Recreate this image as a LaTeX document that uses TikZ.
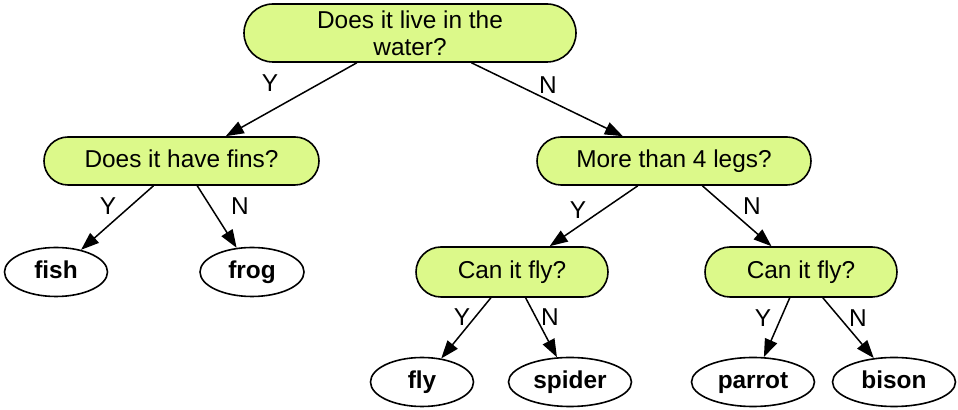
\documentclass[tikz,border=0pt]{standalone}
\usepackage{fontspec}
\setmainfont{Liberation Sans}
\usetikzlibrary{shapes.misc,shapes.geometric,arrows.meta}
\definecolor{qgreen}{RGB}{220,249,138}
\begin{document}
\begin{tikzpicture}[x=0.5pt, y=-0.5pt, line width=.8pt,
question node/.style={rounded rectangle,draw,fill=qgreen,inner sep=2pt,font=\fontsize{12.2}{13.5}\selectfont,align=center},
one line/.style={text height=8.8pt,text depth=2.6pt},
answer node/.style={ellipse,draw,fill=white,inner sep=2pt,minimum width=51.5pt,minimum height=24.5pt,text height=8.8pt,text depth=2.6pt,font=\fontsize{12.2}{13.5}\selectfont\bfseries},
edge label/.style={inner sep=0pt,font=\fontsize{12.2}{13.5}\selectfont}]
\useasboundingbox (0,0) rectangle (958,410);
\begin{scope}
\node[question node, minimum width=170pt, minimum height=29pt] (q1) at (410,33) {Does it live in the\\water?};
\node[question node, one line, minimum width=141.5pt, minimum height=24pt] (q2) at (181.5,161) {Does it have fins?};
\node[question node, one line, minimum width=141pt, minimum height=24pt] (q3) at (674,161) {More than 4 legs?};
\node[question node, one line, minimum width=100pt, minimum height=25pt] (q4) at (512,272) {Can it fly?};
\node[question node, one line, minimum width=100pt, minimum height=25pt] (q5) at (801,272) {Can it fly?};
\node[answer node] (a1) at (56,272) {fish};
\node[answer node, minimum width=52pt] (a2) at (252,272) {frog};
\node[answer node] (a3) at (422,382) {fly};
\node[answer node, minimum width=61.5pt] (a4) at (570,382) {spider};
\node[answer node, minimum width=61.5pt] (a5) at (753,382) {parrot};
\node[answer node, minimum width=61.5pt] (a6) at (894,382) {bison};
\end{scope}
\begin{scope}[every edge/.style={draw=black,line width=.75pt,-{Triangle[length=9pt,width=6.5pt]}}]
\draw  (q1) edge (q2);
\draw  (q1) edge (q3);
\draw  (q2) edge (a1);
\draw  (q2) edge (a2);
\draw  (q3) edge (q4);
\draw  (q3) edge (q5);
\draw  (q4) edge (a3);
\draw  (q4) edge (a4);
\draw  (q5) edge (a5);
\draw  (q5) edge (a6);
\end{scope}
\begin{scope}[every node/.style={edge label}]
\node (y1) at (270,83) {Y};
\node (n1) at (548,85) {N};
\node (y2) at (108,206) {Y};
\node (n2) at (240,206) {N};
\node (y3) at (578,210) {Y};
\node (n3) at (752,206) {N};
\node (y4) at (462,317) {Y};
\node (n4) at (550,317) {N};
\node (y5) at (763,318) {Y};
\node (n5) at (858,318) {N};
\end{scope}
\end{tikzpicture}
\end{document}
